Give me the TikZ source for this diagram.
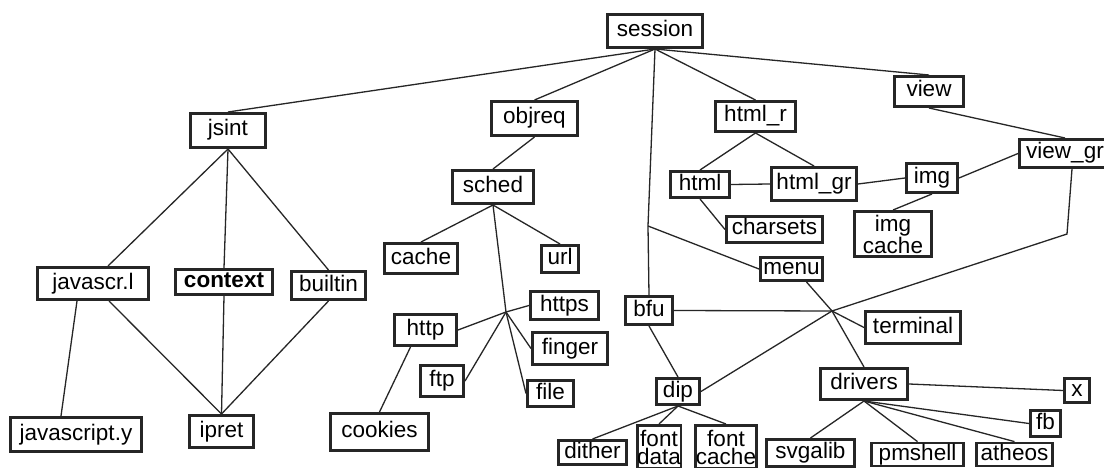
\documentclass[tikz,border=0pt]{standalone}
\usepackage{fontspec}
\setmainfont{Liberation Sans}

\begin{document}
\begin{tikzpicture}[
  x=1pt, y={(0pt,-1pt)},
  box/.style 2 args={draw=black!85, line width=2.8pt, minimum width=#1pt-2.8pt,
    minimum height=#2pt-2.8pt, inner xsep=0pt, inner ysep=1pt,
    text height=16pt, text depth=5pt, font=\fontsize{22.5}{18}\selectfont},
  twoline/.style={align=center, text height=, text depth=},
  link/.style={line width=1.3pt, draw=black!85}
]
  \useasboundingbox (0,0) rectangle (1104,468);
  \fill[white] (0,0) rectangle (1104,468);

  % top levels
  \node[box={98}{36}] (session) at (655,31) {session};
  \node[box={78}{37}] (jsint) at (228,130.5) {jsint};
  \node[box={89}{37}] (objreq) at (534.5,118.5) {objreq};
  \node[box={84}{36}] (sched) at (493,187) {sched};
  \node[box={83}{33}] (htmlr) at (755.5,116.5) {html\_r};
  \node[box={72}{33}] (view) at (929,91.5) {view};
  \node[box={94}{31}] (viewgr) at (1065,153.5) {view\_gr};

  % html side
  \node[box={62}{29}] (html) at (700,184.5) {html};
  \node[box={88}{36}] (htmlgr) at (814,184) {html\_gr};
  \node[box={54}{32}] (img) at (932,178) {img};
  \node[box={80}{48}, twoline] (imgcache) at (893,234) {img\\cache};
  \node[box={99}{29}] (charsets) at (774.5,229.5) {charsets};
  \node[box={65}{26}] (menu) at (791.5,269) {menu};
  \node[box={50}{31}] (bfu) at (649,310.5) {bfu};
  \node[box={98}{35}] (terminal) at (913,327.5) {terminal};
  \node[box={46}{29}] (dip) at (678,391.5) {dip};
  \node[box={90}{34}] (drivers) at (864,384) {drivers};
  \node[box={28}{27}] (x) at (1077,390.5) {x};
  \node[box={33}{29}] (fb) at (1045.5,423.5) {fb};
  \node[box={91}{30}] (svgalib) at (810.5,453) {svgalib};
  \node[box={95}{25}] (pmshell) at (917.5,454.5) {pmshell};
  \node[box={79}{25}] (atheos) at (1014.5,454.5) {atheos};
  \node[box={71}{27}] (dither) at (592.5,452.5) {dither};
  \node[box={46}{46}, twoline] (fontdata) at (659,447) {font\\data};
  \node[box={64}{46}, twoline] (fontcache) at (726,447) {font\\cache};

  % javascript side
  \node[box={114}{35}] (javascrl) at (93,283.5) {javascr.l};
  \node[box={100}{28}, font=\fontsize{22.5}{18}\selectfont\bfseries] (context) at (224,282) {context};
  \node[box={77}{31}] (builtin) at (328.5,285.5) {builtin};
  \node[box={134}{37}] (javascripty) at (76,434.5) {javascript.y};
  \node[box={67}{35}] (ipret) at (221.5,431.5) {ipret};

  % protocols
  \node[box={76}{33}] (cache) at (421,258.5) {cache};
  \node[box={40}{30}] (url) at (560,259) {url};
  \node[box={71}{31}] (https) at (564.5,305.5) {https};
  \node[box={65}{34}] (http) at (425.5,330) {http};
  \node[box={78}{35}] (finger) at (570,348.5) {finger};
  \node[box={46}{34}] (ftp) at (442,381) {ftp};
  \node[box={49}{29}] (file) at (550.5,393.5) {file};
  \node[box={101}{40}] (cookies) at (379.5,432) {cookies};

  \coordinate (bend) at (648,226);
  \coordinate (hubA) at (506,312);
  \coordinate (hubB) at (832,311);
  \coordinate (bendv) at (1067,234);

  \draw[link] (session.south) -- (jsint.north);
  \draw[link] (session.south) -- (objreq.north);
  \draw[link] (session.south) -- (bend) -- (bfu.north);
  \draw[link] (bend) -- (menu.west);
  \draw[link] (session.south) -- (htmlr.north);
  \draw[link] (session.south) -- (view.north);
  \draw[link] (view.south) -- (viewgr.north);

  \draw[link] (htmlr.south) -- (html.north);
  \draw[link] (htmlr.south) -- (htmlgr.north);
  \draw[link] (html.east) -- (htmlgr.west);
  \draw[link] (htmlgr.east) -- (img.west);
  \draw[link] (img.east) -- (viewgr.west);
  \draw[link] (img.south) -- (imgcache.north);
  \draw[link] (html.south) -- (charsets.west);

  \draw[link] (jsint.south) -- ([xshift=15]javascrl.north);
  \draw[link] (jsint.south) -- (context.north);
  \draw[link] (jsint.south) -- (builtin.north);
  \draw[link] ([xshift=-16]javascrl.south) -- ([xshift=-15]javascripty.north);
  \draw[link] ([xshift=16]javascrl.south) -- (ipret.north);
  \draw[link] (context.south) -- (ipret.north);
  \draw[link] (builtin.south) -- (ipret.north);

  \draw[link] (objreq.south) -- (sched.north);
  \draw[link] (sched.south) -- (cache.north);
  \draw[link] (sched.south) -- (url.north);
  \draw[link] (sched.south) -- (hubA) -- (file.west);
  \draw[link] (http.east) -- (hubA) -- (https.west);
  \draw[link] (hubA) -- (finger.west);
  \draw[link] (ftp.east) -- (hubA);
  \draw[link] ([xshift=-15]http.south) -- (cookies.north);

  \draw[link] (bfu.south) -- (dip.north);
  \draw[link] (bfu.east) -- (hubB);
  \draw[link] ([xshift=15]menu.south) -- (hubB) -- (drivers.north);
  \draw[link] (hubB) -- (terminal.west);
  \draw[link] (dip.east) -- (hubB) -- (bendv) -- ([xshift=7]viewgr.south);

  \draw[link] (dip.south) -- (dither.north);
  \draw[link] (dip.south) -- (fontdata.north);
  \draw[link] (dip.south) -- (fontcache.north);

  \draw[link] (drivers.east) -- (x.west);
  \draw[link] (drivers.south) -- (svgalib.north);
  \draw[link] (drivers.south) -- (pmshell.north);
  \draw[link] (drivers.south) -- (atheos.north);
  \draw[link] (drivers.south) -- (fb.west);
\end{tikzpicture}
\end{document}
